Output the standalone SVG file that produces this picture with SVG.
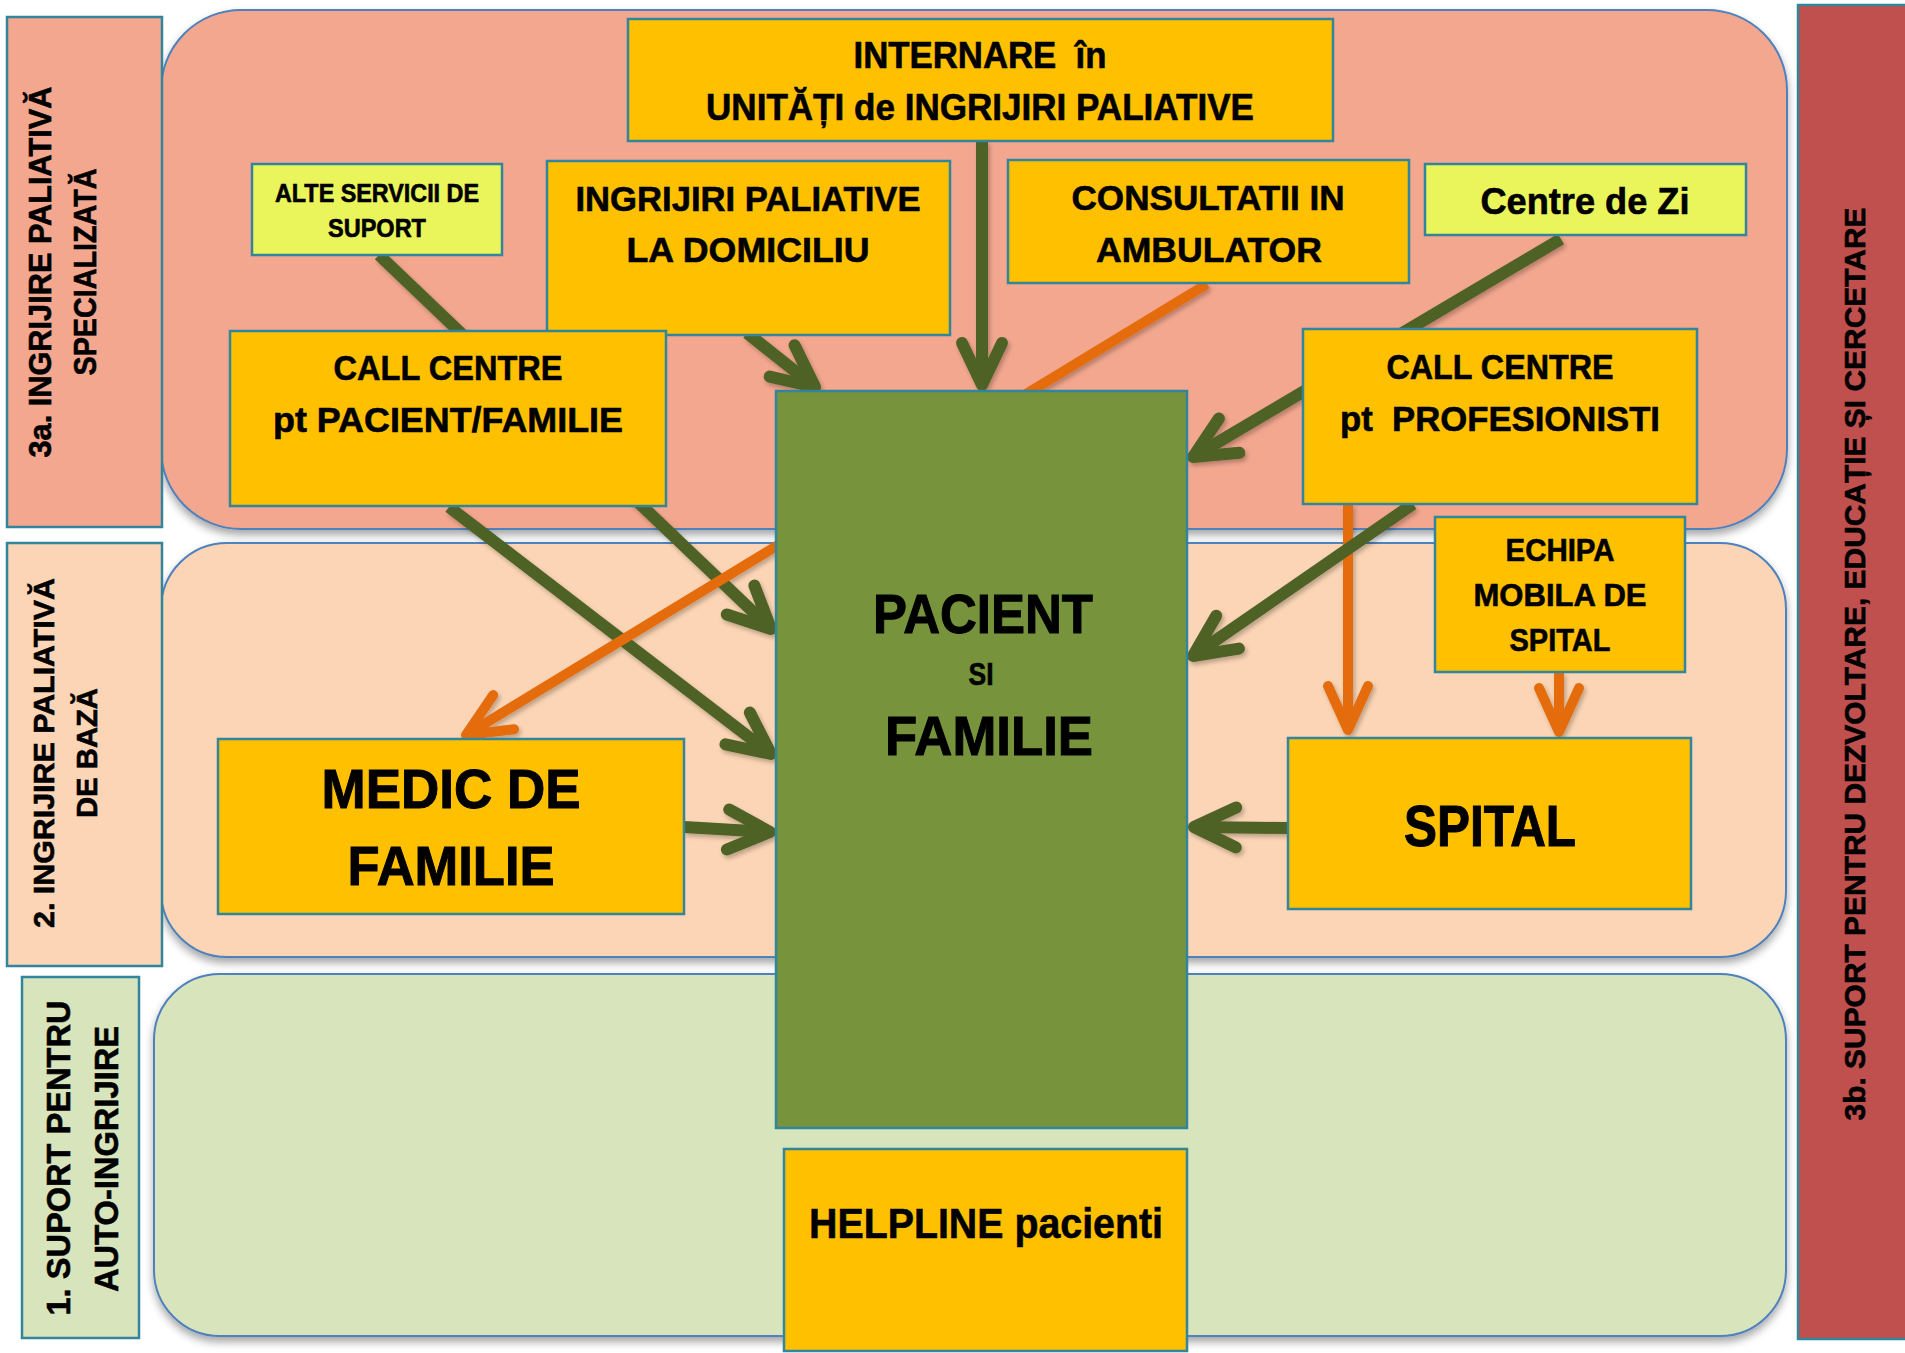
<svg xmlns="http://www.w3.org/2000/svg" width="1905" height="1353" viewBox="0 0 1905 1353">
<style>
.t{font-family:"Liberation Sans",Arial,sans-serif;font-weight:bold;fill:#000;text-anchor:middle;stroke:#000;stroke-width:0.6;}
.big{stroke-width:1;}
.node{fill:#FFC000;stroke:#31859C;stroke-width:2.5;}
.lime{fill:#EAF55B;stroke:#31859C;stroke-width:2.5;}
.lab{stroke:#31859C;stroke-width:2.5;}
.reg{stroke:#4F81BD;stroke-width:2;}
.g{stroke:#4F6228;stroke-width:12;fill:none;}
.o{stroke:#E46C0A;stroke-width:10;fill:none;}
</style>
<defs>
<filter id="sh" x="-5%" y="-5%" width="110%" height="115%">
<feDropShadow dx="0" dy="5" stdDeviation="4" flood-color="#000" flood-opacity="0.35"/>
</filter>
<filter id="ash" x="-10%" y="-10%" width="120%" height="120%">
<feDropShadow dx="2" dy="3" stdDeviation="2" flood-color="#000" flood-opacity="0.25"/>
</filter>
<marker id="ag" markerUnits="userSpaceOnUse" orient="auto" refX="0" refY="0" markerWidth="10" markerHeight="10" overflow="visible">
<path d="M-42,-20 L0,0 L-42,20" fill="none" stroke="#4F6228" stroke-width="12" stroke-linecap="round" stroke-linejoin="round"/>
</marker>
<marker id="ao" markerUnits="userSpaceOnUse" orient="auto" refX="0" refY="0" markerWidth="10" markerHeight="10" overflow="visible">
<path d="M-44,-20 L0,0 L-44,20" fill="none" stroke="#E46C0A" stroke-width="10" stroke-linecap="round" stroke-linejoin="round"/>
</marker>
</defs>
<rect width="1905" height="1353" fill="#FFFFFF"/>

<g id="regions">
<rect id="region-3a" class="reg" x="161" y="10" width="1626" height="519" rx="80" ry="80" fill="#F3A78F" filter="url(#sh)"/>
<rect id="region-2" class="reg" x="161" y="543" width="1625" height="414" rx="66" ry="66" fill="#FBD5B5" filter="url(#sh)"/>
<rect id="region-1" class="reg" x="154" y="974" width="1632" height="362" rx="66" ry="66" fill="#D8E4BC" filter="url(#sh)"/>
</g>

<g id="label-3a">
<rect class="lab" x="7" y="17" width="155" height="510" fill="#F3A78F"/>
<text class="t" font-size="31" transform="translate(51,272) rotate(-90)" textLength="371" lengthAdjust="spacingAndGlyphs">3a. INGRIJIRE PALIATIVĂ</text>
<text class="t" font-size="31" transform="translate(96,272) rotate(-90)" textLength="207" lengthAdjust="spacingAndGlyphs">SPECIALIZATĂ</text>
</g>
<g id="label-2">
<rect class="lab" x="7" y="543" width="155" height="423" fill="#FBD5B5"/>
<text class="t" font-size="30" transform="translate(54,753) rotate(-90)" textLength="350" lengthAdjust="spacingAndGlyphs">2. INGRIJIRE PALIATIVĂ</text>
<text class="t" font-size="30" transform="translate(97,753) rotate(-90)" textLength="130" lengthAdjust="spacingAndGlyphs">DE BAZĂ</text>
</g>
<g id="label-1">
<rect class="lab" x="22" y="977" width="117" height="361" fill="#D8E4BC"/>
<text class="t" font-size="33" transform="translate(70,1158) rotate(-90)" textLength="315" lengthAdjust="spacingAndGlyphs">1. SUPORT PENTRU</text>
<text class="t" font-size="33" transform="translate(118,1159) rotate(-90)" textLength="266" lengthAdjust="spacingAndGlyphs">AUTO-INGRIJIRE</text>
</g>
<g id="label-3b">
<rect class="lab" x="1798" y="5" width="112" height="1334" fill="#C0504D"/>
<text class="t" font-size="30" transform="translate(1865,664) rotate(-90)" textLength="913" lengthAdjust="spacingAndGlyphs">3b. SUPORT PENTRU DEZVOLTARE, EDUCAȚIE ȘI CERCETARE</text>
</g>

<g id="connectors" filter="url(#ash)">
<line class="o" x1="1348" y1="504" x2="1348" y2="730" marker-end="url(#ao)"/>
<line class="o" x1="1559" y1="672" x2="1559" y2="732" marker-end="url(#ao)"/>
<line class="g" x1="379" y1="255" x2="771" y2="629" marker-end="url(#ag)"/>
<line class="g" x1="449" y1="507" x2="771" y2="754" marker-end="url(#ag)"/>
<line class="g" x1="747" y1="333" x2="815" y2="387" marker-end="url(#ag)"/>
<line class="g" x1="982" y1="141" x2="982" y2="385" marker-end="url(#ag)"/>
<line class="g" x1="1561" y1="239" x2="1193" y2="457" marker-end="url(#ag)"/>
<line class="g" x1="1413" y1="504" x2="1193" y2="656" marker-end="url(#ag)"/>
<line class="g" x1="684" y1="827" x2="770" y2="832" marker-end="url(#ag)"/>
<line class="g" x1="1288" y1="828" x2="1194" y2="827" marker-end="url(#ag)"/>
<line class="o" x1="1207" y1="284" x2="466" y2="735" marker-end="url(#ao)"/>
</g>

<g id="node-internare">
<rect class="node" x="628" y="19" width="705" height="122"/>
<text class="t" font-size="36" x="980" y="68" xml:space="preserve" textLength="253" lengthAdjust="spacingAndGlyphs">INTERNARE  în</text>
<text class="t" font-size="36" x="980" y="120" textLength="548" lengthAdjust="spacingAndGlyphs">UNITĂȚI de INGRIJIRI PALIATIVE</text>
</g>
<g id="node-alte">
<rect class="lime" x="252" y="164" width="250" height="91"/>
<text class="t" font-size="25" x="377" y="202" textLength="204" lengthAdjust="spacingAndGlyphs">ALTE SERVICII DE</text>
<text class="t" font-size="25" x="377" y="237" textLength="98" lengthAdjust="spacingAndGlyphs">SUPORT</text>
</g>
<g id="node-domiciliu">
<rect class="node" x="547" y="161" width="403" height="174"/>
<text class="t" font-size="35" x="748" y="211" textLength="345" lengthAdjust="spacingAndGlyphs">INGRIJIRI PALIATIVE</text>
<text class="t" font-size="35" x="748" y="262" textLength="243" lengthAdjust="spacingAndGlyphs">LA DOMICILIU</text>
</g>
<g id="node-consultatii">
<rect class="node" x="1008" y="160" width="401" height="123"/>
<text class="t" font-size="35" x="1208" y="210" textLength="273" lengthAdjust="spacingAndGlyphs">CONSULTATII IN</text>
<text class="t" font-size="35" x="1209" y="262" textLength="226" lengthAdjust="spacingAndGlyphs">AMBULATOR</text>
</g>
<g id="node-centre-zi">
<rect class="lime" x="1425" y="164" width="321" height="71"/>
<text class="t" font-size="37" x="1585" y="214" textLength="209" lengthAdjust="spacingAndGlyphs">Centre de Zi</text>
</g>
<g id="node-cc-pacient">
<rect class="node" x="230" y="331" width="436" height="175"/>
<text class="t" font-size="35" x="448" y="380" textLength="229" lengthAdjust="spacingAndGlyphs">CALL CENTRE</text>
<text class="t" font-size="35" x="448" y="432" textLength="350" lengthAdjust="spacingAndGlyphs">pt PACIENT/FAMILIE</text>
</g>
<g id="node-cc-prof">
<rect class="node" x="1303" y="329" width="394" height="175"/>
<text class="t" font-size="35" x="1500" y="379" textLength="227" lengthAdjust="spacingAndGlyphs">CALL CENTRE</text>
<text class="t" font-size="35" x="1500" y="431" xml:space="preserve" textLength="320" lengthAdjust="spacingAndGlyphs">pt  PROFESIONISTI</text>
</g>
<g id="node-echipa">
<rect class="node" x="1435" y="517" width="250" height="155"/>
<text class="t" font-size="32" x="1560" y="561" textLength="109" lengthAdjust="spacingAndGlyphs">ECHIPA</text>
<text class="t" font-size="32" x="1560" y="606" textLength="173" lengthAdjust="spacingAndGlyphs">MOBILA DE</text>
<text class="t" font-size="32" x="1560" y="651" textLength="101" lengthAdjust="spacingAndGlyphs">SPITAL</text>
</g>
<g id="node-pacient">
<rect x="776" y="391" width="411" height="737" fill="#77933C" stroke="#31859C" stroke-width="2.5"/>
<text class="t big" font-size="56" x="983" y="633" textLength="220" lengthAdjust="spacingAndGlyphs">PACIENT</text>
<text class="t" font-size="31" x="981" y="685" textLength="25" lengthAdjust="spacingAndGlyphs">SI</text>
<text class="t big" font-size="56" x="989" y="755" textLength="208" lengthAdjust="spacingAndGlyphs">FAMILIE</text>
</g>
<g id="node-medic">
<rect class="node" x="218" y="739" width="466" height="175"/>
<text class="t big" font-size="56" x="451" y="808" textLength="259" lengthAdjust="spacingAndGlyphs">MEDIC DE</text>
<text class="t big" font-size="56" x="451" y="885" textLength="207" lengthAdjust="spacingAndGlyphs">FAMILIE</text>
</g>
<g id="node-spital">
<rect class="node" x="1288" y="738" width="403" height="171"/>
<text class="t big" font-size="57" x="1490" y="846" textLength="172" lengthAdjust="spacingAndGlyphs">SPITAL</text>
</g>
<g id="node-helpline">
<rect class="node" x="784" y="1149" width="403" height="202"/>
<text class="t" font-size="43" x="986" y="1238" textLength="354" lengthAdjust="spacingAndGlyphs">HELPLINE pacienti</text>
</g>
</svg>
